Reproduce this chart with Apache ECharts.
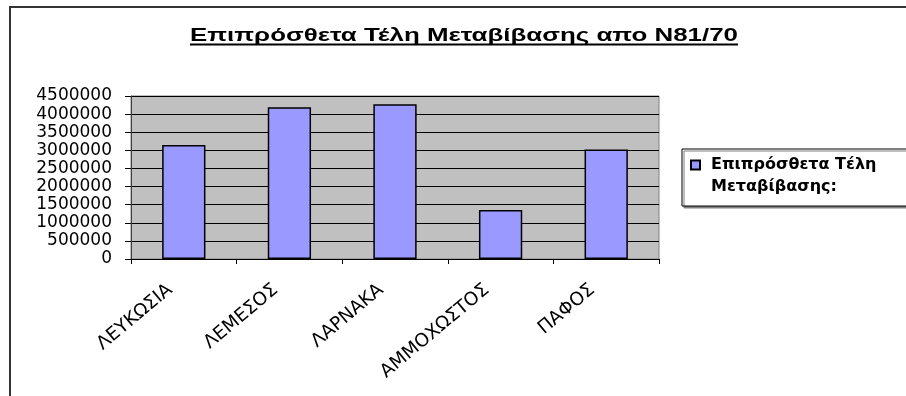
<!DOCTYPE html>
<html>
<head>
<meta charset="utf-8">
<script src="https://cdn.jsdelivr.net/npm/echarts@6/dist/echarts.min.js"></script>
<style>
  html, body { margin: 0; padding: 0; background: #ffffff; }
  #chart { width: 906px; height: 396px; }
</style>
</head>
<body>
<div id="chart"></div>
<script>
// Chart content
const chartTitle = 'Επιπρόσθετα Τέλη Μεταβίβασης απο N81/70';
const seriesName = 'Επιπρόσθετα Τέλη Μεταβίβασης:';
const districts = ['ΛΕΥΚΩΣΙΑ', 'ΛΕΜΕΣΟΣ', 'ΛΑΡΝΑΚΑ', 'ΑΜΜΟΧΩΣΤΟΣ', 'ΠΑΦΟΣ'];
const fees = [3150000, 4190000, 4270000, 1350000, 3020000];
const yMin = 0;
const yMax = 4500000;
const yStep = 500000;

// Title: wide bold heading, underlined
const titleFont = 'bold 17.5px "Liberation Sans"';
const titleCenterX = 464;
const titleMidY = 36;
const titleSpan = 548;

function textWidth(font, text) {
  const ctx = document.createElement('canvas').getContext('2d');
  ctx.font = font;
  return ctx.measureText(text).width;
}
const titleScaleX = titleSpan / textWidth(titleFont, chartTitle);

const chart = echarts.init(document.getElementById('chart'), null, { renderer: 'canvas' });

chart.setOption({
  backgroundColor: '#ffffff',
  animation: false,
  graphic: [
    {
      type: 'rect',
      z: -10,
      silent: true,
      shape: { x: 10, y: 7, width: 1000, height: 1000 },
      style: { fill: null, stroke: '#333333', lineWidth: 2 }
    },
    {
      type: 'text',
      silent: true,
      x: titleCenterX,
      y: titleMidY,
      scaleX: titleScaleX,
      style: {
        text: chartTitle,
        x: 0,
        y: 0,
        align: 'center',
        verticalAlign: 'middle',
        font: titleFont,
        fill: '#000000'
      }
    },
    {
      type: 'line',
      silent: true,
      shape: {
        x1: titleCenterX - titleSpan / 2, y1: 44.5,
        x2: titleCenterX + titleSpan / 2, y2: 44.5
      },
      style: { stroke: '#000000', lineWidth: 2 }
    }
  ],
  legend: {
    left: 682,
    top: 149,
    orient: 'vertical',
    padding: [5, 40, 8, 8],
    backgroundColor: '#ffffff',
    borderColor: '#000000',
    borderWidth: 1,
    shadowColor: '#808080',
    shadowOffsetX: 2,
    shadowOffsetY: 2,
    shadowBlur: 0,
    icon: 'path://M0,0h9v9h-9zM15,31',
    itemWidth: 15,
    itemHeight: 31,
    formatter: function (name) { return name.replace(' Μεταβίβασης', '\nΜεταβίβασης'); },
    textStyle: {
      fontFamily: 'DejaVu Sans',
      fontWeight: 'bold',
      fontSize: 16,
      lineHeight: 22,
      color: '#000000'
    },
    data: [seriesName]
  },
  grid: {
    left: 131,
    right: 247,
    top: 96,
    bottom: 137,
    show: true,
    backgroundColor: '#c0c0c0',
    borderColor: '#808080',
    borderWidth: 1,
    containLabel: false
  },
  xAxis: {
    type: 'category',
    data: districts,
    boundaryGap: true,
    axisLine: { show: true, lineStyle: { color: '#000000', width: 1 } },
    axisTick: { show: true, length: 5, alignWithLabel: false, lineStyle: { color: '#000000' } },
    axisLabel: {
      rotate: 40,
      margin: 17,
      padding: [0, 18, 0, 0],
      interval: 0,
      fontFamily: 'DejaVu Sans',
      fontSize: 18.5,
      color: '#000000'
    },
    splitLine: { show: false }
  },
  yAxis: {
    type: 'value',
    min: yMin,
    max: yMax,
    interval: yStep,
    axisLine: { show: true, lineStyle: { color: '#404040', width: 1 } },
    axisTick: { show: true, length: 6, lineStyle: { color: '#000000' } },
    axisLabel: {
      margin: 19,
      fontFamily: 'DejaVu Sans',
      fontSize: 17,
      color: '#000000',
      formatter: function (v) { return String(v); }
    },
    splitLine: { show: true, lineStyle: { color: '#000000', width: 1 } }
  },
  series: [
    {
      name: seriesName,
      type: 'bar',
      data: fees,
      barCategoryGap: '59%',
      itemStyle: {
        color: '#9999ff',
        borderColor: '#000000',
        borderWidth: 1.5
      }
    }
  ]
});
</script>
</body>
</html>
